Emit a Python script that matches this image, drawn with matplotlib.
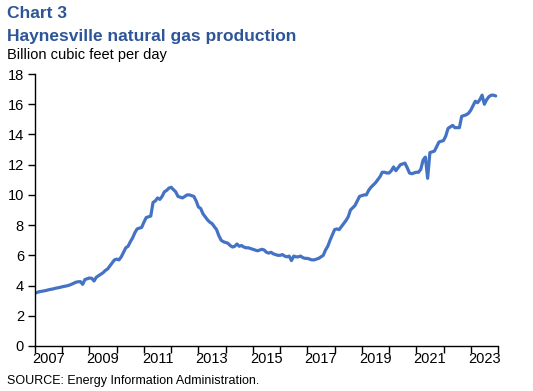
import numpy as np
import matplotlib
matplotlib.use("Agg")
import matplotlib.pyplot as plt

plt.rcParams['font.family'] = ['Liberation Sans', 'DejaVu Sans']

# monthly production, billion cubic feet per day, Jan 2007 - Dec 2023
start_year = 2007
production = [
    3.50, 3.55, 3.60, 3.62, 3.65, 3.68, 3.72, 3.75, 3.78, 3.82, 3.85, 3.88,   # 2007
    3.92, 3.95, 3.98, 4.02, 4.08, 4.15, 4.22, 4.25, 4.26, 4.08, 4.40, 4.45,   # 2008
    4.50, 4.48, 4.30, 4.55, 4.65, 4.75, 4.85, 5.00, 5.10, 5.30, 5.50, 5.70,   # 2009
    5.75, 5.70, 5.90, 6.20, 6.50, 6.60, 6.90, 7.15, 7.50, 7.75, 7.80, 7.85,   # 2010
    8.20, 8.50, 8.55, 8.60, 9.50, 9.60, 9.80, 9.70, 9.90, 10.20, 10.30, 10.45,  # 2011
    10.50, 10.35, 10.20, 9.90, 9.85, 9.80, 9.90, 10.00, 10.00, 9.95, 9.90, 9.60,  # 2012
    9.20, 9.10, 8.75, 8.55, 8.35, 8.20, 8.10, 7.90, 7.70, 7.30, 7.00, 6.90,   # 2013
    6.85, 6.80, 6.65, 6.55, 6.60, 6.75, 6.60, 6.65, 6.55, 6.50, 6.50, 6.45,   # 2014
    6.40, 6.35, 6.30, 6.35, 6.40, 6.35, 6.20, 6.15, 6.20, 6.10, 6.05, 6.00,   # 2015
    6.00, 6.05, 5.95, 5.90, 5.95, 5.65, 5.95, 5.90, 5.90, 5.95, 5.85, 5.80,   # 2016
    5.80, 5.75, 5.70, 5.70, 5.75, 5.80, 5.90, 6.00, 6.35, 6.60, 7.00, 7.35,   # 2017
    7.70, 7.75, 7.70, 7.90, 8.10, 8.30, 8.55, 9.00, 9.15, 9.30, 9.60, 9.90,   # 2018
    9.95, 10.00, 10.00, 10.30, 10.50, 10.65, 10.80, 11.00, 11.20, 11.50, 11.50, 11.45,  # 2019
    11.45, 11.60, 11.85, 11.60, 11.80, 12.00, 12.05, 12.10, 11.80, 11.45, 11.40, 11.45,  # 2020
    11.50, 11.50, 11.70, 12.30, 12.50, 11.10, 12.80, 12.85, 12.90, 13.20, 13.50, 13.55,  # 2021
    13.60, 13.90, 14.40, 14.50, 14.60, 14.45, 14.45, 14.45, 15.20, 15.25, 15.30, 15.40,  # 2022
    15.60, 15.90, 16.20, 16.10, 16.30, 16.60, 16.00, 16.30, 16.50, 16.60, 16.60, 16.55,  # 2023
]
year_labels = [str(y) for y in range(2007, 2024, 2)]

t = start_year + np.arange(len(production)) / 12

fig = plt.figure(figsize=(5.33, 3.91), dpi=100)
ax = fig.add_axes([0.0657, 0.1151, 0.8686, 0.6956])

ax.plot(t, production, color='#4472C4', lw=2.3, solid_capstyle='round')

ax.set_xlim(2007, 2024)
ax.set_ylim(0, 18)
ax.set_yticks(range(0, 19, 2))
ax.set_xticks(range(2007, 2025))
ax.set_xticklabels([])
ax.set_xticks([y + 0.5 for y in range(2007, 2024, 2)], minor=True)
ax.set_xticklabels(year_labels, minor=True)
ax.tick_params(axis='x', which='minor', length=0, pad=4, labelsize=10.5)
ax.tick_params(axis='x', which='major', length=5, width=1, direction='out')
ax.tick_params(axis='y', length=5, width=1, direction='out', labelsize=10.5, pad=3)

for s in ['top', 'right']:
    ax.spines[s].set_visible(False)
for s in ['left', 'bottom']:
    ax.spines[s].set_linewidth(1)

blue = '#2E5597'
fig.text(7 / 533, 1 - 14 / 391, 'Chart 3', color=blue, fontsize=12.5,
         fontweight='bold', va='center', ha='left')
fig.text(7 / 533, 1 - 36 / 391, 'Haynesville natural gas production', color=blue,
         fontsize=12.5, fontweight='bold', va='center', ha='left')
fig.text(7 / 533, 1 - 55 / 391, 'Billion cubic feet per day', color='black',
         fontsize=10.5, va='center', ha='left')
fig.text(7 / 533, 1 - 381 / 391, 'SOURCE: Energy Information Administration.',
         color='black', fontsize=9, va='center', ha='left')

fig.savefig('out.png', dpi=100)
